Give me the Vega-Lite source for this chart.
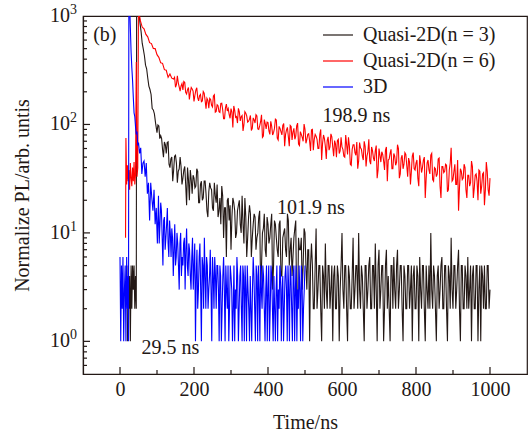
{
"$schema":"https://vega.github.io/schema/vega-lite/v6.json",
"autosize":{"type":"none"},
"padding":{"left":83,"top":16,"right":3,"bottom":61},
"width":444,"height":358,
"background":"white",
"title":{"text":" ","font":"Liberation Serif","fontSize":12,"fontWeight":"normal","offset":2},
"config":{"view":{"stroke":"#231815","strokeWidth":1.2}},
"datasets":{
"pl":[
{"s":"Quasi-2D(n = 3)","t":20,"y":1},{"s":"Quasi-2D(n = 3)","t":22,"y":5},{"s":"Quasi-2D(n = 3)","t":24,"y":2},{"s":"Quasi-2D(n = 3)","t":26,"y":4},{"s":"Quasi-2D(n = 3)","t":28,"y":1},{"s":"Quasi-2D(n = 3)","t":30,"y":5},{"s":"Quasi-2D(n = 3)","t":32,"y":2},{"s":"Quasi-2D(n = 3)","t":34,"y":5},{"s":"Quasi-2D(n = 3)","t":36,"y":3},{"s":"Quasi-2D(n = 3)","t":38,"y":5},{"s":"Quasi-2D(n = 3)","t":40,"y":2},{"s":"Quasi-2D(n = 3)","t":42,"y":4},{"s":"Quasi-2D(n = 3)","t":44,"y":2},
{"s":"Quasi-2D(n = 3)","t":45,"y":2200},{"s":"Quasi-2D(n = 3)","t":48,"y":1350},{"s":"Quasi-2D(n = 3)","t":51,"y":1080},{"s":"Quasi-2D(n = 3)","t":54,"y":862},{"s":"Quasi-2D(n = 3)","t":57,"y":717},{"s":"Quasi-2D(n = 3)","t":60,"y":561},{"s":"Quasi-2D(n = 3)","t":63,"y":494},{"s":"Quasi-2D(n = 3)","t":66,"y":430},{"s":"Quasi-2D(n = 3)","t":69,"y":352},{"s":"Quasi-2D(n = 3)","t":72,"y":326},{"s":"Quasi-2D(n = 3)","t":75,"y":268},{"s":"Quasi-2D(n = 3)","t":78,"y":226},{"s":"Quasi-2D(n = 3)","t":81,"y":210},{"s":"Quasi-2D(n = 3)","t":84,"y":189},{"s":"Quasi-2D(n = 3)","t":87,"y":140},{"s":"Quasi-2D(n = 3)","t":90,"y":136},{"s":"Quasi-2D(n = 3)","t":93,"y":125},{"s":"Quasi-2D(n = 3)","t":96,"y":104},{"s":"Quasi-2D(n = 3)","t":100,"y":84},
{"s":"Quasi-2D(n = 3)","t":105,"y":97},{"s":"Quasi-2D(n = 3)","t":110,"y":79},{"s":"Quasi-2D(n = 3)","t":115,"y":59},{"s":"Quasi-2D(n = 3)","t":120,"y":69},{"s":"Quasi-2D(n = 3)","t":125,"y":54},{"s":"Quasi-2D(n = 3)","t":130,"y":69},{"s":"Quasi-2D(n = 3)","t":135,"y":40},{"s":"Quasi-2D(n = 3)","t":140,"y":50},{"s":"Quasi-2D(n = 3)","t":145,"y":38},{"s":"Quasi-2D(n = 3)","t":150,"y":52},{"s":"Quasi-2D(n = 3)","t":155,"y":29},{"s":"Quasi-2D(n = 3)","t":160,"y":39},{"s":"Quasi-2D(n = 3)","t":165,"y":41},{"s":"Quasi-2D(n = 3)","t":170,"y":32},{"s":"Quasi-2D(n = 3)","t":175,"y":41},{"s":"Quasi-2D(n = 3)","t":180,"y":18},{"s":"Quasi-2D(n = 3)","t":185,"y":31},{"s":"Quasi-2D(n = 3)","t":190,"y":38},{"s":"Quasi-2D(n = 3)","t":195,"y":23},{"s":"Quasi-2D(n = 3)","t":200,"y":32},{"s":"Quasi-2D(n = 3)","t":205,"y":27},{"s":"Quasi-2D(n = 3)","t":210,"y":37},{"s":"Quasi-2D(n = 3)","t":215,"y":19},{"s":"Quasi-2D(n = 3)","t":220,"y":30},{"s":"Quasi-2D(n = 3)","t":225,"y":21},{"s":"Quasi-2D(n = 3)","t":230,"y":30},{"s":"Quasi-2D(n = 3)","t":235,"y":16},{"s":"Quasi-2D(n = 3)","t":240,"y":24},{"s":"Quasi-2D(n = 3)","t":245,"y":26},{"s":"Quasi-2D(n = 3)","t":250,"y":17},{"s":"Quasi-2D(n = 3)","t":255,"y":29},{"s":"Quasi-2D(n = 3)","t":260,"y":19},{"s":"Quasi-2D(n = 3)","t":265,"y":14},{"s":"Quasi-2D(n = 3)","t":270,"y":21},{"s":"Quasi-2D(n = 3)","t":275,"y":27},{"s":"Quasi-2D(n = 3)","t":280,"y":9},{"s":"Quasi-2D(n = 3)","t":285,"y":17},{"s":"Quasi-2D(n = 3)","t":290,"y":20},{"s":"Quasi-2D(n = 3)","t":295,"y":13},{"s":"Quasi-2D(n = 3)","t":300,"y":7},{"s":"Quasi-2D(n = 3)","t":305,"y":21},{"s":"Quasi-2D(n = 3)","t":310,"y":16},{"s":"Quasi-2D(n = 3)","t":315,"y":10},{"s":"Quasi-2D(n = 3)","t":320,"y":18},{"s":"Quasi-2D(n = 3)","t":325,"y":12},{"s":"Quasi-2D(n = 3)","t":330,"y":22},{"s":"Quasi-2D(n = 3)","t":335,"y":8},{"s":"Quasi-2D(n = 3)","t":340,"y":14},{"s":"Quasi-2D(n = 3)","t":345,"y":9},{"s":"Quasi-2D(n = 3)","t":350,"y":18},{"s":"Quasi-2D(n = 3)","t":355,"y":6},{"s":"Quasi-2D(n = 3)","t":360,"y":12},{"s":"Quasi-2D(n = 3)","t":365,"y":14},{"s":"Quasi-2D(n = 3)","t":370,"y":9},{"s":"Quasi-2D(n = 3)","t":375,"y":14},{"s":"Quasi-2D(n = 3)","t":380,"y":3},{"s":"Quasi-2D(n = 3)","t":385,"y":10},{"s":"Quasi-2D(n = 3)","t":390,"y":15},{"s":"Quasi-2D(n = 3)","t":395,"y":6},{"s":"Quasi-2D(n = 3)","t":400,"y":12},{"s":"Quasi-2D(n = 3)","t":405,"y":9},{"s":"Quasi-2D(n = 3)","t":410,"y":15},{"s":"Quasi-2D(n = 3)","t":415,"y":5},{"s":"Quasi-2D(n = 3)","t":420,"y":12},{"s":"Quasi-2D(n = 3)","t":425,"y":7},{"s":"Quasi-2D(n = 3)","t":430,"y":12},{"s":"Quasi-2D(n = 3)","t":435,"y":4},{"s":"Quasi-2D(n = 3)","t":440,"y":9},{"s":"Quasi-2D(n = 3)","t":445,"y":11},{"s":"Quasi-2D(n = 3)","t":450,"y":6},{"s":"Quasi-2D(n = 3)","t":455,"y":13},{"s":"Quasi-2D(n = 3)","t":460,"y":7},{"s":"Quasi-2D(n = 3)","t":465,"y":4},{"s":"Quasi-2D(n = 3)","t":470,"y":9},{"s":"Quasi-2D(n = 3)","t":475,"y":13},{"s":"Quasi-2D(n = 3)","t":480,"y":2},{"s":"Quasi-2D(n = 3)","t":485,"y":7},{"s":"Quasi-2D(n = 3)","t":490,"y":9},{"s":"Quasi-2D(n = 3)","t":495,"y":5},{"s":"Quasi-2D(n = 3)","t":500,"y":10},{"s":"Quasi-2D(n = 3)","t":505,"y":3},{"s":"Quasi-2D(n = 3)","t":510,"y":7},{"s":"Quasi-2D(n = 3)","t":515,"y":5},
{"s":"Quasi-2D(n = 3)","t":102.5,"y":99},{"s":"Quasi-2D(n = 3)","t":107.5,"y":74},{"s":"Quasi-2D(n = 3)","t":112.5,"y":74},{"s":"Quasi-2D(n = 3)","t":117.5,"y":50},{"s":"Quasi-2D(n = 3)","t":122.5,"y":65},{"s":"Quasi-2D(n = 3)","t":127.5,"y":68},{"s":"Quasi-2D(n = 3)","t":132.5,"y":43},{"s":"Quasi-2D(n = 3)","t":137.5,"y":48},{"s":"Quasi-2D(n = 3)","t":142.5,"y":30},{"s":"Quasi-2D(n = 3)","t":147.5,"y":51},{"s":"Quasi-2D(n = 3)","t":152.5,"y":44},{"s":"Quasi-2D(n = 3)","t":157.5,"y":37},{"s":"Quasi-2D(n = 3)","t":162.5,"y":50},{"s":"Quasi-2D(n = 3)","t":167.5,"y":28},{"s":"Quasi-2D(n = 3)","t":172.5,"y":38},{"s":"Quasi-2D(n = 3)","t":177.5,"y":28},{"s":"Quasi-2D(n = 3)","t":182.5,"y":40},{"s":"Quasi-2D(n = 3)","t":187.5,"y":20},{"s":"Quasi-2D(n = 3)","t":192.5,"y":31},{"s":"Quasi-2D(n = 3)","t":197.5,"y":34},{"s":"Quasi-2D(n = 3)","t":202.5,"y":26},{"s":"Quasi-2D(n = 3)","t":207.5,"y":39},{"s":"Quasi-2D(n = 3)","t":212.5,"y":19},{"s":"Quasi-2D(n = 3)","t":217.5,"y":28},{"s":"Quasi-2D(n = 3)","t":222.5,"y":20},{"s":"Quasi-2D(n = 3)","t":227.5,"y":30},{"s":"Quasi-2D(n = 3)","t":232.5,"y":23},{"s":"Quasi-2D(n = 3)","t":237.5,"y":14},{"s":"Quasi-2D(n = 3)","t":242.5,"y":29},{"s":"Quasi-2D(n = 3)","t":247.5,"y":25},{"s":"Quasi-2D(n = 3)","t":252.5,"y":16},{"s":"Quasi-2D(n = 3)","t":257.5,"y":22},{"s":"Quasi-2D(n = 3)","t":262.5,"y":28},{"s":"Quasi-2D(n = 3)","t":267.5,"y":16},{"s":"Quasi-2D(n = 3)","t":272.5,"y":12},{"s":"Quasi-2D(n = 3)","t":277.5,"y":22},{"s":"Quasi-2D(n = 3)","t":282.5,"y":17},{"s":"Quasi-2D(n = 3)","t":287.5,"y":6},{"s":"Quasi-2D(n = 3)","t":292.5,"y":21},{"s":"Quasi-2D(n = 3)","t":297.5,"y":18},{"s":"Quasi-2D(n = 3)","t":302.5,"y":14},{"s":"Quasi-2D(n = 3)","t":307.5,"y":19},{"s":"Quasi-2D(n = 3)","t":312.5,"y":9},{"s":"Quasi-2D(n = 3)","t":317.5,"y":16},{"s":"Quasi-2D(n = 3)","t":322.5,"y":20},{"s":"Quasi-2D(n = 3)","t":327.5,"y":10},{"s":"Quasi-2D(n = 3)","t":332.5,"y":12},{"s":"Quasi-2D(n = 3)","t":337.5,"y":21},{"s":"Quasi-2D(n = 3)","t":342.5,"y":6},{"s":"Quasi-2D(n = 3)","t":347.5,"y":14},{"s":"Quasi-2D(n = 3)","t":352.5,"y":15},{"s":"Quasi-2D(n = 3)","t":357.5,"y":9},{"s":"Quasi-2D(n = 3)","t":362.5,"y":15},{"s":"Quasi-2D(n = 3)","t":367.5,"y":7},{"s":"Quasi-2D(n = 3)","t":372.5,"y":10},{"s":"Quasi-2D(n = 3)","t":377.5,"y":16},{"s":"Quasi-2D(n = 3)","t":382.5,"y":5},{"s":"Quasi-2D(n = 3)","t":387.5,"y":11},{"s":"Quasi-2D(n = 3)","t":392.5,"y":7},{"s":"Quasi-2D(n = 3)","t":397.5,"y":14},{"s":"Quasi-2D(n = 3)","t":402.5,"y":8},{"s":"Quasi-2D(n = 3)","t":407.5,"y":12},{"s":"Quasi-2D(n = 3)","t":412.5,"y":3},{"s":"Quasi-2D(n = 3)","t":417.5,"y":13},{"s":"Quasi-2D(n = 3)","t":422.5,"y":9},{"s":"Quasi-2D(n = 3)","t":427.5,"y":6},{"s":"Quasi-2D(n = 3)","t":432.5,"y":13},{"s":"Quasi-2D(n = 3)","t":437.5,"y":4},{"s":"Quasi-2D(n = 3)","t":442.5,"y":10},{"s":"Quasi-2D(n = 3)","t":447.5,"y":7},{"s":"Quasi-2D(n = 3)","t":452.5,"y":15},{"s":"Quasi-2D(n = 3)","t":457.5,"y":5},{"s":"Quasi-2D(n = 3)","t":462.5,"y":9},{"s":"Quasi-2D(n = 3)","t":467.5,"y":6},{"s":"Quasi-2D(n = 3)","t":472.5,"y":11},{"s":"Quasi-2D(n = 3)","t":477.5,"y":2},{"s":"Quasi-2D(n = 3)","t":482.5,"y":9},{"s":"Quasi-2D(n = 3)","t":487.5,"y":7},{"s":"Quasi-2D(n = 3)","t":492.5,"y":3},{"s":"Quasi-2D(n = 3)","t":497.5,"y":11},{"s":"Quasi-2D(n = 3)","t":502.5,"y":5},{"s":"Quasi-2D(n = 3)","t":507.5,"y":7},{"s":"Quasi-2D(n = 3)","t":512.5,"y":1},{"s":"Quasi-2D(n = 3)","t":517.5,"y":8},
{"s":"Quasi-2D(n = 3)","t":520,"y":5},{"s":"Quasi-2D(n = 3)","t":522.5,"y":2},{"s":"Quasi-2D(n = 3)","t":525,"y":2},{"s":"Quasi-2D(n = 3)","t":527.5,"y":5},{"s":"Quasi-2D(n = 3)","t":530,"y":11},{"s":"Quasi-2D(n = 3)","t":532.5,"y":2},{"s":"Quasi-2D(n = 3)","t":535,"y":3},{"s":"Quasi-2D(n = 3)","t":537.5,"y":5},{"s":"Quasi-2D(n = 3)","t":540,"y":5},{"s":"Quasi-2D(n = 3)","t":542.5,"y":2},{"s":"Quasi-2D(n = 3)","t":545,"y":1},{"s":"Quasi-2D(n = 3)","t":547.5,"y":5},{"s":"Quasi-2D(n = 3)","t":550,"y":4},{"s":"Quasi-2D(n = 3)","t":552.5,"y":2},{"s":"Quasi-2D(n = 3)","t":555,"y":8},{"s":"Quasi-2D(n = 3)","t":557.5,"y":3},{"s":"Quasi-2D(n = 3)","t":560,"y":2},{"s":"Quasi-2D(n = 3)","t":562.5,"y":5},{"s":"Quasi-2D(n = 3)","t":565,"y":5},{"s":"Quasi-2D(n = 3)","t":567.5,"y":2},{"s":"Quasi-2D(n = 3)","t":570,"y":3},{"s":"Quasi-2D(n = 3)","t":572.5,"y":5},{"s":"Quasi-2D(n = 3)","t":575,"y":1},{"s":"Quasi-2D(n = 3)","t":577.5,"y":4},{"s":"Quasi-2D(n = 3)","t":580,"y":5},{"s":"Quasi-2D(n = 3)","t":582.5,"y":2},{"s":"Quasi-2D(n = 3)","t":585,"y":2},{"s":"Quasi-2D(n = 3)","t":587.5,"y":5},{"s":"Quasi-2D(n = 3)","t":590,"y":4},{"s":"Quasi-2D(n = 3)","t":592.5,"y":1},{"s":"Quasi-2D(n = 3)","t":595,"y":3},{"s":"Quasi-2D(n = 3)","t":597.5,"y":5},{"s":"Quasi-2D(n = 3)","t":600,"y":10},{"s":"Quasi-2D(n = 3)","t":602.5,"y":3},{"s":"Quasi-2D(n = 3)","t":605,"y":2},{"s":"Quasi-2D(n = 3)","t":607.5,"y":5},{"s":"Quasi-2D(n = 3)","t":610,"y":5},{"s":"Quasi-2D(n = 3)","t":612.5,"y":2},{"s":"Quasi-2D(n = 3)","t":615,"y":1},{"s":"Quasi-2D(n = 3)","t":617.5,"y":5},{"s":"Quasi-2D(n = 3)","t":620,"y":4},{"s":"Quasi-2D(n = 3)","t":622.5,"y":2},{"s":"Quasi-2D(n = 3)","t":625,"y":2},{"s":"Quasi-2D(n = 3)","t":627.5,"y":4},{"s":"Quasi-2D(n = 3)","t":630,"y":9},{"s":"Quasi-2D(n = 3)","t":632.5,"y":2},{"s":"Quasi-2D(n = 3)","t":635,"y":3},{"s":"Quasi-2D(n = 3)","t":637.5,"y":5},{"s":"Quasi-2D(n = 3)","t":640,"y":5},{"s":"Quasi-2D(n = 3)","t":642.5,"y":2},{"s":"Quasi-2D(n = 3)","t":645,"y":10},{"s":"Quasi-2D(n = 3)","t":647.5,"y":3},{"s":"Quasi-2D(n = 3)","t":650,"y":2},{"s":"Quasi-2D(n = 3)","t":652.5,"y":5},{"s":"Quasi-2D(n = 3)","t":655,"y":4},{"s":"Quasi-2D(n = 3)","t":657.5,"y":2},{"s":"Quasi-2D(n = 3)","t":660,"y":1},{"s":"Quasi-2D(n = 3)","t":662.5,"y":5},{"s":"Quasi-2D(n = 3)","t":665,"y":5},{"s":"Quasi-2D(n = 3)","t":667.5,"y":2},{"s":"Quasi-2D(n = 3)","t":670,"y":3},{"s":"Quasi-2D(n = 3)","t":672.5,"y":5},{"s":"Quasi-2D(n = 3)","t":675,"y":6},{"s":"Quasi-2D(n = 3)","t":677.5,"y":2},{"s":"Quasi-2D(n = 3)","t":680,"y":2},{"s":"Quasi-2D(n = 3)","t":682.5,"y":5},{"s":"Quasi-2D(n = 3)","t":685,"y":5},{"s":"Quasi-2D(n = 3)","t":687.5,"y":2},{"s":"Quasi-2D(n = 3)","t":690,"y":8},{"s":"Quasi-2D(n = 3)","t":692.5,"y":3},{"s":"Quasi-2D(n = 3)","t":695,"y":1},{"s":"Quasi-2D(n = 3)","t":697.5,"y":5},{"s":"Quasi-2D(n = 3)","t":700,"y":7},{"s":"Quasi-2D(n = 3)","t":702.5,"y":2},{"s":"Quasi-2D(n = 3)","t":705,"y":3},{"s":"Quasi-2D(n = 3)","t":707.5,"y":5},{"s":"Quasi-2D(n = 3)","t":710,"y":5},{"s":"Quasi-2D(n = 3)","t":712.5,"y":1},{"s":"Quasi-2D(n = 3)","t":715,"y":2},{"s":"Quasi-2D(n = 3)","t":717.5,"y":5},{"s":"Quasi-2D(n = 3)","t":720,"y":7},{"s":"Quasi-2D(n = 3)","t":722.5,"y":2},{"s":"Quasi-2D(n = 3)","t":725,"y":4},{"s":"Quasi-2D(n = 3)","t":727.5,"y":2},{"s":"Quasi-2D(n = 3)","t":730,"y":1},{"s":"Quasi-2D(n = 3)","t":732.5,"y":5},{"s":"Quasi-2D(n = 3)","t":735,"y":5},{"s":"Quasi-2D(n = 3)","t":737.5,"y":2},{"s":"Quasi-2D(n = 3)","t":740,"y":6},{"s":"Quasi-2D(n = 3)","t":742.5,"y":3},{"s":"Quasi-2D(n = 3)","t":745,"y":2},{"s":"Quasi-2D(n = 3)","t":747.5,"y":5},{"s":"Quasi-2D(n = 3)","t":750,"y":7},{"s":"Quasi-2D(n = 3)","t":752.5,"y":2},{"s":"Quasi-2D(n = 3)","t":755,"y":3},{"s":"Quasi-2D(n = 3)","t":757.5,"y":5},{"s":"Quasi-2D(n = 3)","t":760,"y":5},{"s":"Quasi-2D(n = 3)","t":762.5,"y":2},{"s":"Quasi-2D(n = 3)","t":765,"y":1},{"s":"Quasi-2D(n = 3)","t":767.5,"y":5},{"s":"Quasi-2D(n = 3)","t":770,"y":4},{"s":"Quasi-2D(n = 3)","t":772.5,"y":2},{"s":"Quasi-2D(n = 3)","t":775,"y":2},{"s":"Quasi-2D(n = 3)","t":777.5,"y":5},{"s":"Quasi-2D(n = 3)","t":780,"y":5},{"s":"Quasi-2D(n = 3)","t":782.5,"y":2},{"s":"Quasi-2D(n = 3)","t":785,"y":3},{"s":"Quasi-2D(n = 3)","t":787.5,"y":5},{"s":"Quasi-2D(n = 3)","t":790,"y":1},{"s":"Quasi-2D(n = 3)","t":792.5,"y":4},{"s":"Quasi-2D(n = 3)","t":795,"y":5},{"s":"Quasi-2D(n = 3)","t":797.5,"y":2},{"s":"Quasi-2D(n = 3)","t":800,"y":2},{"s":"Quasi-2D(n = 3)","t":802.5,"y":5},{"s":"Quasi-2D(n = 3)","t":805,"y":4},{"s":"Quasi-2D(n = 3)","t":807.5,"y":1},{"s":"Quasi-2D(n = 3)","t":810,"y":6},{"s":"Quasi-2D(n = 3)","t":812.5,"y":3},{"s":"Quasi-2D(n = 3)","t":815,"y":2},{"s":"Quasi-2D(n = 3)","t":817.5,"y":5},{"s":"Quasi-2D(n = 3)","t":820,"y":5},{"s":"Quasi-2D(n = 3)","t":822.5,"y":2},{"s":"Quasi-2D(n = 3)","t":825,"y":1},{"s":"Quasi-2D(n = 3)","t":827.5,"y":5},{"s":"Quasi-2D(n = 3)","t":830,"y":3},{"s":"Quasi-2D(n = 3)","t":832.5,"y":2},{"s":"Quasi-2D(n = 3)","t":835,"y":5},{"s":"Quasi-2D(n = 3)","t":837.5,"y":2},{"s":"Quasi-2D(n = 3)","t":840,"y":10},{"s":"Quasi-2D(n = 3)","t":842.5,"y":3},{"s":"Quasi-2D(n = 3)","t":845,"y":2},{"s":"Quasi-2D(n = 3)","t":847.5,"y":5},{"s":"Quasi-2D(n = 3)","t":850,"y":4},{"s":"Quasi-2D(n = 3)","t":852.5,"y":2},{"s":"Quasi-2D(n = 3)","t":855,"y":1},{"s":"Quasi-2D(n = 3)","t":857.5,"y":4},{"s":"Quasi-2D(n = 3)","t":860,"y":5},{"s":"Quasi-2D(n = 3)","t":862.5,"y":2},{"s":"Quasi-2D(n = 3)","t":865,"y":3},{"s":"Quasi-2D(n = 3)","t":867.5,"y":5},{"s":"Quasi-2D(n = 3)","t":870,"y":6},{"s":"Quasi-2D(n = 3)","t":872.5,"y":2},{"s":"Quasi-2D(n = 3)","t":875,"y":2},{"s":"Quasi-2D(n = 3)","t":877.5,"y":5},{"s":"Quasi-2D(n = 3)","t":880,"y":5},{"s":"Quasi-2D(n = 3)","t":882.5,"y":2},{"s":"Quasi-2D(n = 3)","t":885,"y":1},{"s":"Quasi-2D(n = 3)","t":887.5,"y":5},{"s":"Quasi-2D(n = 3)","t":890,"y":4},{"s":"Quasi-2D(n = 3)","t":892.5,"y":2},{"s":"Quasi-2D(n = 3)","t":895,"y":9},{"s":"Quasi-2D(n = 3)","t":897.5,"y":3},{"s":"Quasi-2D(n = 3)","t":900,"y":2},{"s":"Quasi-2D(n = 3)","t":902.5,"y":5},{"s":"Quasi-2D(n = 3)","t":905,"y":5},{"s":"Quasi-2D(n = 3)","t":907.5,"y":2},{"s":"Quasi-2D(n = 3)","t":910,"y":3},{"s":"Quasi-2D(n = 3)","t":912.5,"y":5},{"s":"Quasi-2D(n = 3)","t":915,"y":7},{"s":"Quasi-2D(n = 3)","t":917.5,"y":2},{"s":"Quasi-2D(n = 3)","t":920,"y":1},{"s":"Quasi-2D(n = 3)","t":922.5,"y":5},{"s":"Quasi-2D(n = 3)","t":925,"y":5},{"s":"Quasi-2D(n = 3)","t":927.5,"y":2},{"s":"Quasi-2D(n = 3)","t":930,"y":2},{"s":"Quasi-2D(n = 3)","t":932.5,"y":5},{"s":"Quasi-2D(n = 3)","t":935,"y":4},{"s":"Quasi-2D(n = 3)","t":937.5,"y":2},{"s":"Quasi-2D(n = 3)","t":940,"y":6},{"s":"Quasi-2D(n = 3)","t":942.5,"y":2},{"s":"Quasi-2D(n = 3)","t":945,"y":3},{"s":"Quasi-2D(n = 3)","t":947.5,"y":5},{"s":"Quasi-2D(n = 3)","t":950,"y":1},{"s":"Quasi-2D(n = 3)","t":952.5,"y":4},{"s":"Quasi-2D(n = 3)","t":955,"y":5},{"s":"Quasi-2D(n = 3)","t":957.5,"y":2},{"s":"Quasi-2D(n = 3)","t":960,"y":2},{"s":"Quasi-2D(n = 3)","t":962.5,"y":5},{"s":"Quasi-2D(n = 3)","t":965,"y":5},{"s":"Quasi-2D(n = 3)","t":967.5,"y":1},{"s":"Quasi-2D(n = 3)","t":970,"y":3},{"s":"Quasi-2D(n = 3)","t":972.5,"y":5},{"s":"Quasi-2D(n = 3)","t":975,"y":1},{"s":"Quasi-2D(n = 3)","t":977.5,"y":5},{"s":"Quasi-2D(n = 3)","t":980,"y":4},{"s":"Quasi-2D(n = 3)","t":982.5,"y":2},{"s":"Quasi-2D(n = 3)","t":985,"y":5},{"s":"Quasi-2D(n = 3)","t":987.5,"y":2},{"s":"Quasi-2D(n = 3)","t":990,"y":2},{"s":"Quasi-2D(n = 3)","t":992.5,"y":5},{"s":"Quasi-2D(n = 3)","t":995,"y":5},{"s":"Quasi-2D(n = 3)","t":997.5,"y":2},{"s":"Quasi-2D(n = 3)","t":1000,"y":3},

{"s":"Quasi-2D(n = 6)","t":15,"y":9},{"s":"Quasi-2D(n = 6)","t":16,"y":75},{"s":"Quasi-2D(n = 6)","t":18,"y":28},{"s":"Quasi-2D(n = 6)","t":20,"y":42},{"s":"Quasi-2D(n = 6)","t":22,"y":30},{"s":"Quasi-2D(n = 6)","t":24,"y":38},{"s":"Quasi-2D(n = 6)","t":26,"y":25},{"s":"Quasi-2D(n = 6)","t":28,"y":44},{"s":"Quasi-2D(n = 6)","t":30,"y":32},{"s":"Quasi-2D(n = 6)","t":32,"y":27},{"s":"Quasi-2D(n = 6)","t":34,"y":40},{"s":"Quasi-2D(n = 6)","t":36,"y":30},{"s":"Quasi-2D(n = 6)","t":38,"y":45},{"s":"Quasi-2D(n = 6)","t":40,"y":28},{"s":"Quasi-2D(n = 6)","t":42,"y":35},{"s":"Quasi-2D(n = 6)","t":44,"y":376},{"s":"Quasi-2D(n = 6)","t":46,"y":33},{"s":"Quasi-2D(n = 6)","t":48,"y":40},{"s":"Quasi-2D(n = 6)","t":50,"y":1500},{"s":"Quasi-2D(n = 6)","t":52,"y":1050},{"s":"Quasi-2D(n = 6)","t":55,"y":905},{"s":"Quasi-2D(n = 6)","t":60,"y":791},{"s":"Quasi-2D(n = 6)","t":65,"y":763},{"s":"Quasi-2D(n = 6)","t":70,"y":677},{"s":"Quasi-2D(n = 6)","t":75,"y":642},{"s":"Quasi-2D(n = 6)","t":80,"y":567},{"s":"Quasi-2D(n = 6)","t":85,"y":557},{"s":"Quasi-2D(n = 6)","t":90,"y":501},{"s":"Quasi-2D(n = 6)","t":95,"y":500},{"s":"Quasi-2D(n = 6)","t":100,"y":440},{"s":"Quasi-2D(n = 6)","t":105,"y":416},{"s":"Quasi-2D(n = 6)","t":110,"y":370},{"s":"Quasi-2D(n = 6)","t":115,"y":366},{"s":"Quasi-2D(n = 6)","t":120,"y":320},{"s":"Quasi-2D(n = 6)","t":125,"y":316},{"s":"Quasi-2D(n = 6)","t":130,"y":272},{"s":"Quasi-2D(n = 6)","t":135,"y":292},{"s":"Quasi-2D(n = 6)","t":140,"y":267},{"s":"Quasi-2D(n = 6)","t":145,"y":262},{"s":"Quasi-2D(n = 6)","t":150,"y":220},{"s":"Quasi-2D(n = 6)","t":155,"y":281},{"s":"Quasi-2D(n = 6)","t":160,"y":222},{"s":"Quasi-2D(n = 6)","t":165,"y":227},{"s":"Quasi-2D(n = 6)","t":170,"y":208},{"s":"Quasi-2D(n = 6)","t":175,"y":244},{"s":"Quasi-2D(n = 6)","t":180,"y":191},{"s":"Quasi-2D(n = 6)","t":185,"y":219},{"s":"Quasi-2D(n = 6)","t":190,"y":197},{"s":"Quasi-2D(n = 6)","t":195,"y":212},{"s":"Quasi-2D(n = 6)","t":200,"y":163},{"s":"Quasi-2D(n = 6)","t":205,"y":207},{"s":"Quasi-2D(n = 6)","t":210,"y":177},{"s":"Quasi-2D(n = 6)","t":215,"y":184},{"s":"Quasi-2D(n = 6)","t":220,"y":162},{"s":"Quasi-2D(n = 6)","t":225,"y":201},{"s":"Quasi-2D(n = 6)","t":230,"y":167},{"s":"Quasi-2D(n = 6)","t":235,"y":174},{"s":"Quasi-2D(n = 6)","t":240,"y":141},{"s":"Quasi-2D(n = 6)","t":245,"y":170},{"s":"Quasi-2D(n = 6)","t":250,"y":145},{"s":"Quasi-2D(n = 6)","t":255,"y":188},{"s":"Quasi-2D(n = 6)","t":260,"y":132},{"s":"Quasi-2D(n = 6)","t":265,"y":149},{"s":"Quasi-2D(n = 6)","t":270,"y":129},{"s":"Quasi-2D(n = 6)","t":275,"y":157},{"s":"Quasi-2D(n = 6)","t":280,"y":113},{"s":"Quasi-2D(n = 6)","t":285,"y":142},{"s":"Quasi-2D(n = 6)","t":290,"y":133},{"s":"Quasi-2D(n = 6)","t":295,"y":124},{"s":"Quasi-2D(n = 6)","t":300,"y":140},{"s":"Quasi-2D(n = 6)","t":305,"y":94},{"s":"Quasi-2D(n = 6)","t":310,"y":135},{"s":"Quasi-2D(n = 6)","t":315,"y":118},{"s":"Quasi-2D(n = 6)","t":320,"y":141},{"s":"Quasi-2D(n = 6)","t":325,"y":108},{"s":"Quasi-2D(n = 6)","t":330,"y":121},{"s":"Quasi-2D(n = 6)","t":335,"y":100},{"s":"Quasi-2D(n = 6)","t":340,"y":127},{"s":"Quasi-2D(n = 6)","t":345,"y":105},{"s":"Quasi-2D(n = 6)","t":350,"y":112},{"s":"Quasi-2D(n = 6)","t":355,"y":88},{"s":"Quasi-2D(n = 6)","t":360,"y":115},{"s":"Quasi-2D(n = 6)","t":365,"y":103},{"s":"Quasi-2D(n = 6)","t":370,"y":120},{"s":"Quasi-2D(n = 6)","t":375,"y":90},{"s":"Quasi-2D(n = 6)","t":380,"y":106},{"s":"Quasi-2D(n = 6)","t":385,"y":76},{"s":"Quasi-2D(n = 6)","t":390,"y":111},{"s":"Quasi-2D(n = 6)","t":395,"y":91},{"s":"Quasi-2D(n = 6)","t":400,"y":104},{"s":"Quasi-2D(n = 6)","t":405,"y":81},{"s":"Quasi-2D(n = 6)","t":410,"y":96},{"s":"Quasi-2D(n = 6)","t":415,"y":84},{"s":"Quasi-2D(n = 6)","t":420,"y":112},{"s":"Quasi-2D(n = 6)","t":425,"y":75},{"s":"Quasi-2D(n = 6)","t":430,"y":96},{"s":"Quasi-2D(n = 6)","t":435,"y":86},{"s":"Quasi-2D(n = 6)","t":440,"y":98},{"s":"Quasi-2D(n = 6)","t":445,"y":63},{"s":"Quasi-2D(n = 6)","t":450,"y":89},{"s":"Quasi-2D(n = 6)","t":455,"y":77},{"s":"Quasi-2D(n = 6)","t":460,"y":98},{"s":"Quasi-2D(n = 6)","t":465,"y":72},{"s":"Quasi-2D(n = 6)","t":470,"y":92},{"s":"Quasi-2D(n = 6)","t":475,"y":78},{"s":"Quasi-2D(n = 6)","t":480,"y":103},{"s":"Quasi-2D(n = 6)","t":485,"y":64},{"s":"Quasi-2D(n = 6)","t":490,"y":81},{"s":"Quasi-2D(n = 6)","t":495,"y":70},{"s":"Quasi-2D(n = 6)","t":500,"y":90},{"s":"Quasi-2D(n = 6)","t":505,"y":73},{"s":"Quasi-2D(n = 6)","t":510,"y":82},{"s":"Quasi-2D(n = 6)","t":515,"y":57},{"s":"Quasi-2D(n = 6)","t":520,"y":90},{"s":"Quasi-2D(n = 6)","t":525,"y":73},{"s":"Quasi-2D(n = 6)","t":530,"y":78},{"s":"Quasi-2D(n = 6)","t":535,"y":60},{"s":"Quasi-2D(n = 6)","t":540,"y":81},{"s":"Quasi-2D(n = 6)","t":545,"y":47},{"s":"Quasi-2D(n = 6)","t":550,"y":80},{"s":"Quasi-2D(n = 6)","t":555,"y":63},{"s":"Quasi-2D(n = 6)","t":560,"y":71},{"s":"Quasi-2D(n = 6)","t":565,"y":58},{"s":"Quasi-2D(n = 6)","t":570,"y":82},{"s":"Quasi-2D(n = 6)","t":575,"y":62},{"s":"Quasi-2D(n = 6)","t":580,"y":71},{"s":"Quasi-2D(n = 6)","t":585,"y":50},{"s":"Quasi-2D(n = 6)","t":590,"y":73},{"s":"Quasi-2D(n = 6)","t":595,"y":57},{"s":"Quasi-2D(n = 6)","t":600,"y":62},{"s":"Quasi-2D(n = 6)","t":605,"y":51},{"s":"Quasi-2D(n = 6)","t":610,"y":80},{"s":"Quasi-2D(n = 6)","t":615,"y":53},{"s":"Quasi-2D(n = 6)","t":620,"y":63},{"s":"Quasi-2D(n = 6)","t":625,"y":42},{"s":"Quasi-2D(n = 6)","t":630,"y":65},{"s":"Quasi-2D(n = 6)","t":635,"y":55},{"s":"Quasi-2D(n = 6)","t":640,"y":69},{"s":"Quasi-2D(n = 6)","t":645,"y":46},{"s":"Quasi-2D(n = 6)","t":650,"y":61},{"s":"Quasi-2D(n = 6)","t":655,"y":51},{"s":"Quasi-2D(n = 6)","t":660,"y":70},{"s":"Quasi-2D(n = 6)","t":665,"y":41},{"s":"Quasi-2D(n = 6)","t":670,"y":56},{"s":"Quasi-2D(n = 6)","t":675,"y":46},{"s":"Quasi-2D(n = 6)","t":680,"y":62},{"s":"Quasi-2D(n = 6)","t":685,"y":49},{"s":"Quasi-2D(n = 6)","t":690,"y":57},{"s":"Quasi-2D(n = 6)","t":695,"y":32},{"s":"Quasi-2D(n = 6)","t":700,"y":60},{"s":"Quasi-2D(n = 6)","t":705,"y":45},{"s":"Quasi-2D(n = 6)","t":710,"y":53},{"s":"Quasi-2D(n = 6)","t":715,"y":38},{"s":"Quasi-2D(n = 6)","t":720,"y":62},{"s":"Quasi-2D(n = 6)","t":725,"y":47},{"s":"Quasi-2D(n = 6)","t":730,"y":54},{"s":"Quasi-2D(n = 6)","t":735,"y":39},{"s":"Quasi-2D(n = 6)","t":740,"y":54},{"s":"Quasi-2D(n = 6)","t":745,"y":42},{"s":"Quasi-2D(n = 6)","t":750,"y":65},{"s":"Quasi-2D(n = 6)","t":755,"y":32},{"s":"Quasi-2D(n = 6)","t":760,"y":49},{"s":"Quasi-2D(n = 6)","t":765,"y":39},{"s":"Quasi-2D(n = 6)","t":770,"y":55},{"s":"Quasi-2D(n = 6)","t":775,"y":42},{"s":"Quasi-2D(n = 6)","t":780,"y":49},{"s":"Quasi-2D(n = 6)","t":785,"y":28},{"s":"Quasi-2D(n = 6)","t":790,"y":51},{"s":"Quasi-2D(n = 6)","t":795,"y":39},{"s":"Quasi-2D(n = 6)","t":800,"y":44},{"s":"Quasi-2D(n = 6)","t":805,"y":32},{"s":"Quasi-2D(n = 6)","t":810,"y":52},{"s":"Quasi-2D(n = 6)","t":815,"y":36},{"s":"Quasi-2D(n = 6)","t":820,"y":47},{"s":"Quasi-2D(n = 6)","t":825,"y":21},{"s":"Quasi-2D(n = 6)","t":830,"y":44},{"s":"Quasi-2D(n = 6)","t":835,"y":38},{"s":"Quasi-2D(n = 6)","t":840,"y":52},{"s":"Quasi-2D(n = 6)","t":845,"y":31},{"s":"Quasi-2D(n = 6)","t":850,"y":40},{"s":"Quasi-2D(n = 6)","t":855,"y":33},{"s":"Quasi-2D(n = 6)","t":860,"y":48},{"s":"Quasi-2D(n = 6)","t":865,"y":27},{"s":"Quasi-2D(n = 6)","t":870,"y":41},{"s":"Quasi-2D(n = 6)","t":875,"y":36},{"s":"Quasi-2D(n = 6)","t":880,"y":43},{"s":"Quasi-2D(n = 6)","t":885,"y":24},{"s":"Quasi-2D(n = 6)","t":890,"y":38},{"s":"Quasi-2D(n = 6)","t":895,"y":61},{"s":"Quasi-2D(n = 6)","t":900,"y":31},{"s":"Quasi-2D(n = 6)","t":905,"y":43},{"s":"Quasi-2D(n = 6)","t":910,"y":28},{"s":"Quasi-2D(n = 6)","t":915,"y":16},{"s":"Quasi-2D(n = 6)","t":920,"y":39},{"s":"Quasi-2D(n = 6)","t":925,"y":31},{"s":"Quasi-2D(n = 6)","t":930,"y":43},{"s":"Quasi-2D(n = 6)","t":935,"y":25},{"s":"Quasi-2D(n = 6)","t":940,"y":34},{"s":"Quasi-2D(n = 6)","t":945,"y":27},{"s":"Quasi-2D(n = 6)","t":950,"y":46},{"s":"Quasi-2D(n = 6)","t":955,"y":21},{"s":"Quasi-2D(n = 6)","t":960,"y":34},{"s":"Quasi-2D(n = 6)","t":965,"y":30},{"s":"Quasi-2D(n = 6)","t":970,"y":38},{"s":"Quasi-2D(n = 6)","t":975,"y":23},{"s":"Quasi-2D(n = 6)","t":980,"y":35},{"s":"Quasi-2D(n = 6)","t":985,"y":18},{"s":"Quasi-2D(n = 6)","t":990,"y":45},{"s":"Quasi-2D(n = 6)","t":995,"y":25},{"s":"Quasi-2D(n = 6)","t":1000,"y":32},
{"s":"Quasi-2D(n = 6)","t":147.5,"y":272},{"s":"Quasi-2D(n = 6)","t":152.5,"y":233},{"s":"Quasi-2D(n = 6)","t":157.5,"y":242},{"s":"Quasi-2D(n = 6)","t":162.5,"y":203},{"s":"Quasi-2D(n = 6)","t":167.5,"y":238},{"s":"Quasi-2D(n = 6)","t":172.5,"y":249},{"s":"Quasi-2D(n = 6)","t":177.5,"y":198},{"s":"Quasi-2D(n = 6)","t":182.5,"y":209},{"s":"Quasi-2D(n = 6)","t":187.5,"y":170},{"s":"Quasi-2D(n = 6)","t":192.5,"y":219},{"s":"Quasi-2D(n = 6)","t":197.5,"y":203},{"s":"Quasi-2D(n = 6)","t":202.5,"y":186},{"s":"Quasi-2D(n = 6)","t":207.5,"y":218},{"s":"Quasi-2D(n = 6)","t":212.5,"y":165},{"s":"Quasi-2D(n = 6)","t":217.5,"y":189},{"s":"Quasi-2D(n = 6)","t":222.5,"y":165},{"s":"Quasi-2D(n = 6)","t":227.5,"y":194},{"s":"Quasi-2D(n = 6)","t":232.5,"y":140},{"s":"Quasi-2D(n = 6)","t":237.5,"y":167},{"s":"Quasi-2D(n = 6)","t":242.5,"y":174},{"s":"Quasi-2D(n = 6)","t":247.5,"y":150},{"s":"Quasi-2D(n = 6)","t":252.5,"y":183},{"s":"Quasi-2D(n = 6)","t":257.5,"y":130},{"s":"Quasi-2D(n = 6)","t":262.5,"y":152},{"s":"Quasi-2D(n = 6)","t":267.5,"y":131},{"s":"Quasi-2D(n = 6)","t":272.5,"y":156},{"s":"Quasi-2D(n = 6)","t":277.5,"y":137},{"s":"Quasi-2D(n = 6)","t":282.5,"y":113},{"s":"Quasi-2D(n = 6)","t":287.5,"y":154},{"s":"Quasi-2D(n = 6)","t":292.5,"y":140},{"s":"Quasi-2D(n = 6)","t":297.5,"y":114},{"s":"Quasi-2D(n = 6)","t":302.5,"y":130},{"s":"Quasi-2D(n = 6)","t":307.5,"y":148},{"s":"Quasi-2D(n = 6)","t":312.5,"y":116},{"s":"Quasi-2D(n = 6)","t":317.5,"y":103},{"s":"Quasi-2D(n = 6)","t":322.5,"y":131},{"s":"Quasi-2D(n = 6)","t":327.5,"y":118},{"s":"Quasi-2D(n = 6)","t":332.5,"y":87},{"s":"Quasi-2D(n = 6)","t":337.5,"y":131},{"s":"Quasi-2D(n = 6)","t":342.5,"y":120},{"s":"Quasi-2D(n = 6)","t":347.5,"y":107},{"s":"Quasi-2D(n = 6)","t":352.5,"y":121},{"s":"Quasi-2D(n = 6)","t":357.5,"y":92},{"s":"Quasi-2D(n = 6)","t":362.5,"y":110},{"s":"Quasi-2D(n = 6)","t":367.5,"y":123},{"s":"Quasi-2D(n = 6)","t":372.5,"y":91},{"s":"Quasi-2D(n = 6)","t":377.5,"y":97},{"s":"Quasi-2D(n = 6)","t":382.5,"y":123},{"s":"Quasi-2D(n = 6)","t":387.5,"y":78},{"s":"Quasi-2D(n = 6)","t":392.5,"y":102},{"s":"Quasi-2D(n = 6)","t":397.5,"y":105},{"s":"Quasi-2D(n = 6)","t":402.5,"y":87},{"s":"Quasi-2D(n = 6)","t":407.5,"y":107},{"s":"Quasi-2D(n = 6)","t":412.5,"y":80},{"s":"Quasi-2D(n = 6)","t":417.5,"y":92},{"s":"Quasi-2D(n = 6)","t":422.5,"y":110},{"s":"Quasi-2D(n = 6)","t":427.5,"y":72},{"s":"Quasi-2D(n = 6)","t":432.5,"y":92},{"s":"Quasi-2D(n = 6)","t":437.5,"y":80},{"s":"Quasi-2D(n = 6)","t":442.5,"y":102},{"s":"Quasi-2D(n = 6)","t":447.5,"y":81},{"s":"Quasi-2D(n = 6)","t":452.5,"y":94},{"s":"Quasi-2D(n = 6)","t":457.5,"y":63},{"s":"Quasi-2D(n = 6)","t":462.5,"y":96},{"s":"Quasi-2D(n = 6)","t":467.5,"y":85},{"s":"Quasi-2D(n = 6)","t":472.5,"y":73},{"s":"Quasi-2D(n = 6)","t":477.5,"y":97},{"s":"Quasi-2D(n = 6)","t":482.5,"y":66},{"s":"Quasi-2D(n = 6)","t":487.5,"y":86},{"s":"Quasi-2D(n = 6)","t":492.5,"y":76},{"s":"Quasi-2D(n = 6)","t":497.5,"y":101},{"s":"Quasi-2D(n = 6)","t":502.5,"y":67},{"s":"Quasi-2D(n = 6)","t":507.5,"y":81},{"s":"Quasi-2D(n = 6)","t":512.5,"y":70},{"s":"Quasi-2D(n = 6)","t":517.5,"y":89},{"s":"Quasi-2D(n = 6)","t":522.5,"y":58},{"s":"Quasi-2D(n = 6)","t":527.5,"y":81},{"s":"Quasi-2D(n = 6)","t":532.5,"y":73},{"s":"Quasi-2D(n = 6)","t":537.5,"y":60},{"s":"Quasi-2D(n = 6)","t":542.5,"y":90},{"s":"Quasi-2D(n = 6)","t":547.5,"y":67},{"s":"Quasi-2D(n = 6)","t":552.5,"y":74},{"s":"Quasi-2D(n = 6)","t":557.5,"y":48},{"s":"Quasi-2D(n = 6)","t":562.5,"y":77},{"s":"Quasi-2D(n = 6)","t":567.5,"y":62},{"s":"Quasi-2D(n = 6)","t":572.5,"y":77},{"s":"Quasi-2D(n = 6)","t":577.5,"y":51},{"s":"Quasi-2D(n = 6)","t":582.5,"y":66},{"s":"Quasi-2D(n = 6)","t":587.5,"y":71},{"s":"Quasi-2D(n = 6)","t":592.5,"y":54},{"s":"Quasi-2D(n = 6)","t":597.5,"y":76},{"s":"Quasi-2D(n = 6)","t":602.5,"y":59},{"s":"Quasi-2D(n = 6)","t":607.5,"y":50},{"s":"Quasi-2D(n = 6)","t":612.5,"y":65},{"s":"Quasi-2D(n = 6)","t":617.5,"y":76},{"s":"Quasi-2D(n = 6)","t":622.5,"y":43},{"s":"Quasi-2D(n = 6)","t":627.5,"y":59},{"s":"Quasi-2D(n = 6)","t":632.5,"y":65},{"s":"Quasi-2D(n = 6)","t":637.5,"y":52},{"s":"Quasi-2D(n = 6)","t":642.5,"y":39},{"s":"Quasi-2D(n = 6)","t":647.5,"y":68},{"s":"Quasi-2D(n = 6)","t":652.5,"y":59},{"s":"Quasi-2D(n = 6)","t":657.5,"y":47},{"s":"Quasi-2D(n = 6)","t":662.5,"y":63},{"s":"Quasi-2D(n = 6)","t":667.5,"y":51},{"s":"Quasi-2D(n = 6)","t":672.5,"y":73},{"s":"Quasi-2D(n = 6)","t":677.5,"y":43},{"s":"Quasi-2D(n = 6)","t":682.5,"y":57},{"s":"Quasi-2D(n = 6)","t":687.5,"y":46},{"s":"Quasi-2D(n = 6)","t":692.5,"y":64},{"s":"Quasi-2D(n = 6)","t":697.5,"y":38},{"s":"Quasi-2D(n = 6)","t":702.5,"y":52},{"s":"Quasi-2D(n = 6)","t":707.5,"y":56},{"s":"Quasi-2D(n = 6)","t":712.5,"y":46},{"s":"Quasi-2D(n = 6)","t":717.5,"y":58},{"s":"Quasi-2D(n = 6)","t":722.5,"y":30},{"s":"Quasi-2D(n = 6)","t":727.5,"y":48},{"s":"Quasi-2D(n = 6)","t":732.5,"y":59},{"s":"Quasi-2D(n = 6)","t":737.5,"y":39},{"s":"Quasi-2D(n = 6)","t":742.5,"y":51},{"s":"Quasi-2D(n = 6)","t":747.5,"y":45},{"s":"Quasi-2D(n = 6)","t":752.5,"y":60},{"s":"Quasi-2D(n = 6)","t":757.5,"y":35},{"s":"Quasi-2D(n = 6)","t":762.5,"y":52},{"s":"Quasi-2D(n = 6)","t":767.5,"y":43},{"s":"Quasi-2D(n = 6)","t":772.5,"y":53},{"s":"Quasi-2D(n = 6)","t":777.5,"y":33},{"s":"Quasi-2D(n = 6)","t":782.5,"y":45},{"s":"Quasi-2D(n = 6)","t":787.5,"y":37},{"s":"Quasi-2D(n = 6)","t":792.5,"y":55},{"s":"Quasi-2D(n = 6)","t":797.5,"y":38},{"s":"Quasi-2D(n = 6)","t":802.5,"y":47},{"s":"Quasi-2D(n = 6)","t":807.5,"y":27},{"s":"Quasi-2D(n = 6)","t":812.5,"y":44},{"s":"Quasi-2D(n = 6)","t":817.5,"y":40},{"s":"Quasi-2D(n = 6)","t":822.5,"y":50},{"s":"Quasi-2D(n = 6)","t":827.5,"y":32},{"s":"Quasi-2D(n = 6)","t":832.5,"y":47},{"s":"Quasi-2D(n = 6)","t":837.5,"y":35},{"s":"Quasi-2D(n = 6)","t":842.5,"y":54},{"s":"Quasi-2D(n = 6)","t":847.5,"y":30},{"s":"Quasi-2D(n = 6)","t":852.5,"y":39},{"s":"Quasi-2D(n = 6)","t":857.5,"y":35},{"s":"Quasi-2D(n = 6)","t":862.5,"y":49},{"s":"Quasi-2D(n = 6)","t":867.5,"y":21},{"s":"Quasi-2D(n = 6)","t":872.5,"y":41},{"s":"Quasi-2D(n = 6)","t":877.5,"y":37},{"s":"Quasi-2D(n = 6)","t":882.5,"y":42},{"s":"Quasi-2D(n = 6)","t":887.5,"y":25},{"s":"Quasi-2D(n = 6)","t":892.5,"y":44},{"s":"Quasi-2D(n = 6)","t":897.5,"y":30},{"s":"Quasi-2D(n = 6)","t":902.5,"y":37},{"s":"Quasi-2D(n = 6)","t":907.5,"y":28},{"s":"Quasi-2D(n = 6)","t":912.5,"y":47},{"s":"Quasi-2D(n = 6)","t":917.5,"y":26},{"s":"Quasi-2D(n = 6)","t":922.5,"y":37},{"s":"Quasi-2D(n = 6)","t":927.5,"y":32},{"s":"Quasi-2D(n = 6)","t":932.5,"y":40},{"s":"Quasi-2D(n = 6)","t":937.5,"y":21},{"s":"Quasi-2D(n = 6)","t":942.5,"y":34},{"s":"Quasi-2D(n = 6)","t":947.5,"y":29},{"s":"Quasi-2D(n = 6)","t":952.5,"y":41},{"s":"Quasi-2D(n = 6)","t":957.5,"y":26},{"s":"Quasi-2D(n = 6)","t":962.5,"y":35},{"s":"Quasi-2D(n = 6)","t":967.5,"y":20},{"s":"Quasi-2D(n = 6)","t":972.5,"y":37},{"s":"Quasi-2D(n = 6)","t":977.5,"y":27},{"s":"Quasi-2D(n = 6)","t":982.5,"y":36},{"s":"Quasi-2D(n = 6)","t":987.5,"y":25},{"s":"Quasi-2D(n = 6)","t":992.5,"y":37},{"s":"Quasi-2D(n = 6)","t":997.5,"y":22},

{"s":"3D","t":0,"y":6},{"s":"3D","t":2,"y":1},{"s":"3D","t":4,"y":5},{"s":"3D","t":6,"y":2},{"s":"3D","t":8,"y":6},{"s":"3D","t":10,"y":1},{"s":"3D","t":12,"y":3},{"s":"3D","t":14,"y":5},{"s":"3D","t":16,"y":1},{"s":"3D","t":18,"y":6},{"s":"3D","t":20,"y":2},{"s":"3D","t":22,"y":4},{"s":"3D","t":23,"y":1},{"s":"3D","t":24,"y":2500},{"s":"3D","t":26,"y":1300},{"s":"3D","t":28,"y":772},{"s":"3D","t":30,"y":464},{"s":"3D","t":32,"y":332},{"s":"3D","t":34,"y":253},{"s":"3D","t":36,"y":176},{"s":"3D","t":38,"y":128},{"s":"3D","t":40,"y":118},{"s":"3D","t":42,"y":95},{"s":"3D","t":44,"y":81},{"s":"3D","t":46,"y":86},{"s":"3D","t":48,"y":64},{"s":"3D","t":50,"y":68},{"s":"3D","t":53,"y":54},{"s":"3D","t":56,"y":61},{"s":"3D","t":59,"y":35},{"s":"3D","t":62,"y":44},{"s":"3D","t":65,"y":46},{"s":"3D","t":68,"y":33},{"s":"3D","t":71,"y":44},{"s":"3D","t":74,"y":23},{"s":"3D","t":77,"y":29},{"s":"3D","t":80,"y":13},{"s":"3D","t":83,"y":29},{"s":"3D","t":86,"y":21},{"s":"3D","t":89,"y":16},{"s":"3D","t":92,"y":25},{"s":"3D","t":95,"y":12},{"s":"3D","t":98,"y":17},{"s":"3D","t":101,"y":8},{"s":"3D","t":104,"y":22},{"s":"3D","t":108,"y":12},{"s":"3D","t":112,"y":16},{"s":"3D","t":116,"y":5},{"s":"3D","t":120,"y":14},{"s":"3D","t":124,"y":9},{"s":"3D","t":128,"y":17},{"s":"3D","t":132,"y":6},{"s":"3D","t":136,"y":10},{"s":"3D","t":140,"y":11},{"s":"3D","t":144,"y":4},{"s":"3D","t":148,"y":12},{"s":"3D","t":152,"y":6},{"s":"3D","t":156,"y":8},{"s":"3D","t":160,"y":3},{"s":"3D","t":164,"y":10},{"s":"3D","t":168,"y":6},{"s":"3D","t":172,"y":8},{"s":"3D","t":176,"y":3},{"s":"3D","t":180,"y":11},{"s":"3D","t":184,"y":4},{"s":"3D","t":188,"y":7},{"s":"3D","t":192,"y":3},{"s":"3D","t":196,"y":9},{"s":"3D","t":200,"y":5},{"s":"3D","t":204,"y":1},{"s":"3D","t":208,"y":7},{"s":"3D","t":212,"y":3},{"s":"3D","t":216,"y":8},{"s":"3D","t":220,"y":1},{"s":"3D","t":224,"y":5},{"s":"3D","t":228,"y":9},{"s":"3D","t":232,"y":2},{"s":"3D","t":236,"y":5},{"s":"3D","t":240,"y":3},{"s":"3D","t":244,"y":7},{"s":"3D","t":248,"y":1},{"s":"3D","t":252,"y":4},{"s":"3D","t":256,"y":6},{"s":"3D","t":260,"y":2},
{"s":"3D","t":264,"y":5},{"s":"3D","t":268,"y":1},{"s":"3D","t":272,"y":4},{"s":"3D","t":276,"y":2},{"s":"3D","t":280,"y":6},{"s":"3D","t":284,"y":1},{"s":"3D","t":288,"y":3},{"s":"3D","t":292,"y":5},{"s":"3D","t":296,"y":2},{"s":"3D","t":300,"y":4},{"s":"3D","t":304,"y":1},{"s":"3D","t":308,"y":5},{"s":"3D","t":312,"y":3},{"s":"3D","t":316,"y":6},{"s":"3D","t":320,"y":1},{"s":"3D","t":324,"y":4},{"s":"3D","t":328,"y":2},{"s":"3D","t":332,"y":5},{"s":"3D","t":336,"y":1},{"s":"3D","t":340,"y":3},{"s":"3D","t":344,"y":5},{"s":"3D","t":348,"y":2},{"s":"3D","t":352,"y":4},{"s":"3D","t":356,"y":1},{"s":"3D","t":360,"y":6},{"s":"3D","t":364,"y":2},{"s":"3D","t":368,"y":5},{"s":"3D","t":372,"y":1},{"s":"3D","t":376,"y":3},{"s":"3D","t":380,"y":5},{"s":"3D","t":384,"y":2},{"s":"3D","t":388,"y":4},{"s":"3D","t":392,"y":1},{"s":"3D","t":396,"y":5},{"s":"3D","t":400,"y":3},{"s":"3D","t":404,"y":1},{"s":"3D","t":408,"y":5},{"s":"3D","t":412,"y":2},{"s":"3D","t":416,"y":4},{"s":"3D","t":420,"y":1},{"s":"3D","t":424,"y":5},{"s":"3D","t":428,"y":3},{"s":"3D","t":432,"y":5},{"s":"3D","t":436,"y":1},{"s":"3D","t":440,"y":4},{"s":"3D","t":444,"y":2},{"s":"3D","t":448,"y":5},{"s":"3D","t":452,"y":1},{"s":"3D","t":456,"y":3},{"s":"3D","t":460,"y":5},{"s":"3D","t":464,"y":2},{"s":"3D","t":468,"y":4},{"s":"3D","t":472,"y":1},{"s":"3D","t":476,"y":5},{"s":"3D","t":480,"y":3},{"s":"3D","t":484,"y":5},{"s":"3D","t":488,"y":1},{"s":"3D","t":492,"y":4},{"s":"3D","t":496,"y":2},{"s":"3D","t":500,"y":5},
{"s":"3D","t":106,"y":8},{"s":"3D","t":110,"y":19},{"s":"3D","t":114,"y":9},{"s":"3D","t":118,"y":13},{"s":"3D","t":122,"y":7},{"s":"3D","t":126,"y":12},{"s":"3D","t":130,"y":8},{"s":"3D","t":134,"y":13},{"s":"3D","t":138,"y":6},{"s":"3D","t":142,"y":9},{"s":"3D","t":146,"y":7},{"s":"3D","t":150,"y":5},{"s":"3D","t":154,"y":10},{"s":"3D","t":158,"y":5},{"s":"3D","t":162,"y":8},{"s":"3D","t":166,"y":4},{"s":"3D","t":170,"y":5},{"s":"3D","t":174,"y":9},{"s":"3D","t":178,"y":7},{"s":"3D","t":182,"y":5},{"s":"3D","t":186,"y":8},{"s":"3D","t":190,"y":4},{"s":"3D","t":194,"y":6},{"s":"3D","t":198,"y":3},{"s":"3D","t":202,"y":8},{"s":"3D","t":206,"y":4},{"s":"3D","t":210,"y":2},{"s":"3D","t":214,"y":6},{"s":"3D","t":218,"y":3},{"s":"3D","t":222,"y":6},{"s":"3D","t":226,"y":2},{"s":"3D","t":230,"y":4},{"s":"3D","t":234,"y":6},{"s":"3D","t":238,"y":2},{"s":"3D","t":242,"y":4},{"s":"3D","t":246,"y":3},{"s":"3D","t":250,"y":6},{"s":"3D","t":254,"y":2},{"s":"3D","t":258,"y":4},{"s":"3D","t":262,"y":5},{"s":"3D","t":266,"y":3},{"s":"3D","t":270,"y":5},{"s":"3D","t":274,"y":1},{"s":"3D","t":278,"y":4},{"s":"3D","t":282,"y":3},{"s":"3D","t":286,"y":5},{"s":"3D","t":290,"y":2},{"s":"3D","t":294,"y":1},{"s":"3D","t":298,"y":5},{"s":"3D","t":302,"y":3},{"s":"3D","t":306,"y":2},{"s":"3D","t":310,"y":1},{"s":"3D","t":314,"y":2},{"s":"3D","t":318,"y":4},{"s":"3D","t":322,"y":2},{"s":"3D","t":326,"y":5},{"s":"3D","t":330,"y":1},{"s":"3D","t":334,"y":4},{"s":"3D","t":338,"y":5},{"s":"3D","t":342,"y":1},{"s":"3D","t":346,"y":3},{"s":"3D","t":350,"y":1},{"s":"3D","t":354,"y":2},{"s":"3D","t":358,"y":3},{"s":"3D","t":362,"y":4},{"s":"3D","t":366,"y":1},{"s":"3D","t":370,"y":4},{"s":"3D","t":374,"y":5},{"s":"3D","t":378,"y":1},{"s":"3D","t":382,"y":3},{"s":"3D","t":386,"y":5},{"s":"3D","t":390,"y":2},{"s":"3D","t":394,"y":3},{"s":"3D","t":398,"y":1},{"s":"3D","t":402,"y":5},{"s":"3D","t":406,"y":2},{"s":"3D","t":410,"y":4},{"s":"3D","t":414,"y":1},{"s":"3D","t":418,"y":2},{"s":"3D","t":422,"y":3},{"s":"3D","t":426,"y":1},{"s":"3D","t":430,"y":2},{"s":"3D","t":434,"y":4},{"s":"3D","t":438,"y":3},{"s":"3D","t":442,"y":1},{"s":"3D","t":446,"y":4},{"s":"3D","t":450,"y":3},{"s":"3D","t":454,"y":5},{"s":"3D","t":458,"y":1},{"s":"3D","t":462,"y":4},{"s":"3D","t":466,"y":1},{"s":"3D","t":470,"y":5},{"s":"3D","t":474,"y":3},{"s":"3D","t":478,"y":1},{"s":"3D","t":482,"y":2},{"s":"3D","t":486,"y":3},{"s":"3D","t":490,"y":5},{"s":"3D","t":494,"y":1},{"s":"3D","t":498,"y":3}
],
"notes":[
{"t":639,"y":119,"label":"198.9 ns"},
{"t":516,"y":17,"label":"101.9 ns"},
{"t":136,"y":0.877,"label":"29.5 ns"},
{"t":-41,"y":664,"label":"(b)"}
],
"xmaj":[{"t":0,"y":0.5},{"t":200,"y":0.5},{"t":400,"y":0.5},{"t":600,"y":0.5},{"t":800,"y":0.5},{"t":1000,"y":0.5}],
"xmin":[{"t":100,"y":0.5},{"t":300,"y":0.5},{"t":500,"y":0.5},{"t":700,"y":0.5},{"t":900,"y":0.5}],
"ymaj":[{"t":-100,"y":1,"e":"0"},{"t":-100,"y":10,"e":"1"},{"t":-100,"y":100,"e":"2"},{"t":-100,"y":1000,"e":"3"}],
"ymin":[{"t":-100,"y":0.6},{"t":-100,"y":0.7},{"t":-100,"y":0.8},{"t":-100,"y":0.9},{"t":-100,"y":2},{"t":-100,"y":3},{"t":-100,"y":4},{"t":-100,"y":5},{"t":-100,"y":6},{"t":-100,"y":7},{"t":-100,"y":8},{"t":-100,"y":9},{"t":-100,"y":20},{"t":-100,"y":30},{"t":-100,"y":40},{"t":-100,"y":50},{"t":-100,"y":60},{"t":-100,"y":70},{"t":-100,"y":80},{"t":-100,"y":90},{"t":-100,"y":200},{"t":-100,"y":300},{"t":-100,"y":400},{"t":-100,"y":500},{"t":-100,"y":600},{"t":-100,"y":700},{"t":-100,"y":800},{"t":-100,"y":900}]
},
"encoding":{
"x":{"field":"t","type":"quantitative",
 "scale":{"domain":[-100,1100],"nice":false,"zero":false},
 "axis":{"title":"Time/ns","titleFont":"Liberation Serif","titleFontSize":20,"titleFontWeight":"normal","titleColor":"#231815","titleY":48,"titleBaseline":"middle",
  "values":[0,200,400,600,800,1000],"format":"d","ticks":false,"tickSize":0,
  "labelFont":"Liberation Serif","labelFontSize":20,"labelFontWeight":"normal","labelColor":"#231815","labelPadding":5,"labelFlush":false,"labelOverlap":false,
  "domainColor":"#231815","domainWidth":1.2,"grid":false}},
"y":{"field":"y","type":"quantitative",
 "scale":{"type":"log","domain":[0.5,1000],"nice":false},
 "axis":{"title":"Normalize PL/arb. untis","titleFont":"Liberation Serif","titleFontSize":20,"titleFontWeight":"normal","titleColor":"#231815","titleX":-61,"titleY":179,"titleBaseline":"middle",
  "values":[1,10,100,1000],"labels":false,"ticks":false,"tickSize":0,
  "domainColor":"#231815","domainWidth":1.2,"grid":false}}
},
"layer":[
{"data":{"name":"pl"},
 "mark":{"type":"line","strokeWidth":1.1,"clip":true},
 "encoding":{"color":{"field":"s","type":"nominal",
   "scale":{"domain":["Quasi-2D(n = 3)","Quasi-2D(n = 6)","3D"],"range":["#231815","#ff0000","#0000ff"]},
   "legend":{"title":null,"orient":"none","legendX":239,"legendY":3,"symbolType":"stroke","symbolSize":900,"symbolStrokeWidth":1.2,
     "labelFont":"Liberation Serif","labelFontSize":20,"labelFontWeight":"normal","labelColor":"#231815","labelOffset":9,"rowPadding":-7,"labelLimit":300,"padding":0}}}},
{"data":{"name":"xmaj"},"mark":{"type":"tick","orient":"vertical","size":14,"thickness":1.2,"color":"#231815","opacity":1,"clip":true},"encoding":{}},
{"data":{"name":"xmin"},"mark":{"type":"tick","orient":"vertical","size":8,"thickness":1.2,"color":"#231815","opacity":1,"clip":true},"encoding":{}},
{"data":{"name":"ymaj"},"mark":{"type":"tick","orient":"horizontal","size":14,"thickness":1.2,"color":"#231815","opacity":1,"clip":true},"encoding":{}},
{"data":{"name":"ymin"},"mark":{"type":"tick","orient":"horizontal","size":8,"thickness":1.2,"color":"#231815","opacity":1,"clip":true},"encoding":{}},
{"data":{"name":"ymaj"},"mark":{"type":"text","text":"10","font":"Liberation Serif","fontSize":20,"color":"#231815","align":"right","baseline":"middle","dx":-13},"encoding":{}},
{"data":{"name":"ymaj"},"mark":{"type":"text","font":"Liberation Serif","fontSize":14,"color":"#231815","align":"left","baseline":"middle","dx":-13,"dy":-6},"encoding":{"text":{"field":"e","type":"nominal"}}},
{"data":{"name":"notes"},
 "mark":{"type":"text","font":"Liberation Serif","fontSize":20,"color":"#231815","align":"center","baseline":"middle"},
 "encoding":{"text":{"field":"label","type":"nominal"}}}
]
}
